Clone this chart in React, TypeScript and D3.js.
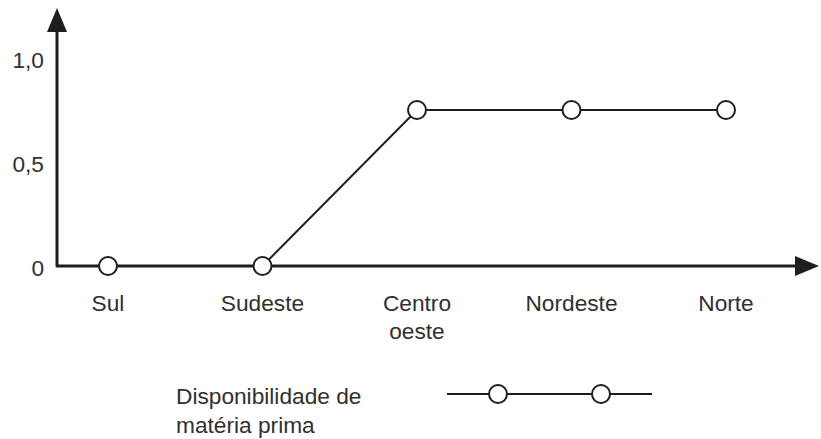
import React from "react";
import * as d3 from "d3";

const width = 821;
const height = 439;
const ink = "#1e1e1e";
const textColor = "#303030";
const font = "'Liberation Sans', Arial, sans-serif";
const fontSize = 22.7;

// chart data
const regions = ["Sul", "Sudeste", "Centro oeste", "Nordeste", "Norte"];
const regionLabels = [["Sul"], ["Sudeste"], ["Centro", "oeste"], ["Nordeste"], ["Norte"]];
const availability = [0, 0, 0.75, 0.75, 0.75];
const yTicks = [0, 0.5, 1.0];
const yTickLabels = ["0", "0,5", "1,0"];
const legendLabel = ["Disponibilidade de", "matéria prima"];

const origin = { x: 57, y: 266 };
const xScale = d3.scalePoint<string>().domain(regions).range([108, 726]);
const yScale = d3.scaleLinear().domain([0, 1]).range([origin.y, 58]);

const line = d3
  .line<number>()
  .x((d, i) => xScale(regions[i]) as number)
  .y(d => yScale(d));

export default function App() {
  const axisTopY = 8;
  const axisRightX = 819;
  const head = 24;
  const half = 10;

  // legend sample, built from a small scale of its own
  const legendX = d3.scaleLinear().domain([0, 1]).range([498, 601]);
  const legendY = 394;

  return (
    <svg
      width={width}
      height={height}
      style={{ position: "absolute", left: 0, top: 0, background: "#fff" }}
      fontFamily={font}
    >
      {/* axes */}
      <path
        d={`M${origin.x},${axisTopY + head - 2}V${origin.y}H${axisRightX - head + 2}`}
        fill="none"
        stroke={ink}
        strokeWidth={3}
        strokeLinejoin="round"
      />
      <path
        d={`M${origin.x},${axisTopY}L${origin.x - half},${axisTopY + head}L${origin.x + half},${axisTopY + head}Z`}
        fill={ink}
      />
      <path
        d={`M${axisRightX},${origin.y}L${axisRightX - head},${origin.y - half}L${axisRightX - head},${origin.y + half}Z`}
        fill={ink}
      />

      {/* y tick labels */}
      {yTicks.map((t, i) => (
        <text
          key={t}
          x={44}
          y={yScale(t) + 2}
          dy="0.35em"
          textAnchor="end"
          fontSize={fontSize}
          fill={textColor}
        >
          {yTickLabels[i]}
        </text>
      ))}

      {/* category labels */}
      {regions.map((r, i) => (
        <text key={r} x={xScale(r)} y={311} textAnchor="middle" fontSize={fontSize} fill={textColor}>
          {regionLabels[i].map((s, j) => (
            <tspan key={s} x={xScale(r)} dy={j === 0 ? 0 : 28}>
              {s}
            </tspan>
          ))}
        </text>
      ))}

      {/* series */}
      <path d={line(availability) || ""} fill="none" stroke={ink} strokeWidth={2} />
      {availability.map((v, i) => (
        <circle
          key={regions[i]}
          cx={xScale(regions[i])}
          cy={yScale(v)}
          r={9}
          fill="#fff"
          stroke={ink}
          strokeWidth={2}
        />
      ))}

      {/* legend */}
      <text x={176} y={404} fontSize={fontSize} fill={textColor}>
        {legendLabel.map((s, j) => (
          <tspan key={s} x={176} dy={j === 0 ? 0 : 29}>
            {s}
          </tspan>
        ))}
      </text>
      <line x1={447} x2={652} y1={legendY} y2={legendY} stroke={ink} strokeWidth={2} />
      {[0, 1].map(k => (
        <circle key={k} cx={legendX(k)} cy={legendY} r={9} fill="#fff" stroke={ink} strokeWidth={2} />
      ))}
    </svg>
  );
}
